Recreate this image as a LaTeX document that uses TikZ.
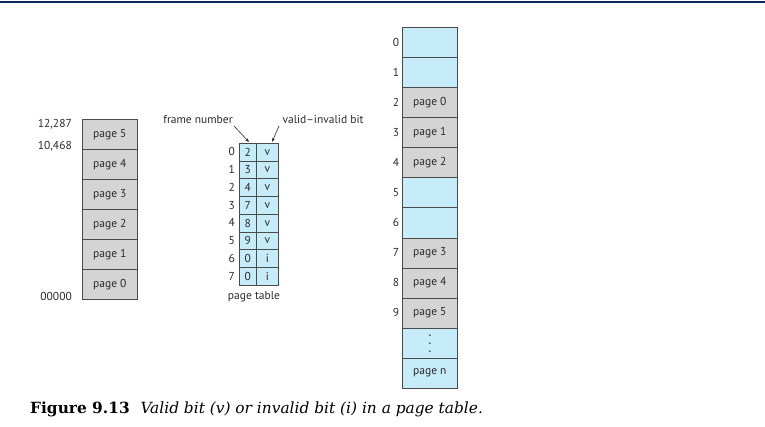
\documentclass[tikz,border=0pt]{standalone}
\usepackage{fontspec}
\setmainfont{DejaVu Serif}
\newfontfamily\lab{PT Sans}
\usetikzlibrary{arrows.meta}
\definecolor{memblue}{HTML}{C6ECFA}
\definecolor{memgray}{HTML}{D4D4D4}
\definecolor{edge}{HTML}{4A4A4A}
\definecolor{navy}{HTML}{0A2A5A}
\definecolor{txt}{HTML}{2A2A2A}
\begin{document}
\begin{tikzpicture}[x=1pt,y=-1pt,
  font=\lab\fontsize{11.5}{13}\selectfont,
  cellbox/.style={draw=edge, line width=0.7pt, inner sep=0pt, anchor=north west, text=txt},
  leftcell/.style={cellbox, fill=memgray, minimum width=55pt, minimum height=30pt},
  fcell/.style={cellbox, fill=memblue, minimum width=17pt, minimum height=17.75pt},
  vcell/.style={cellbox, fill=memblue, minimum width=22pt, minimum height=17.75pt},
  memcell/.style={cellbox, minimum width=55pt, minimum height=30.08pt},
  lbl/.style={inner sep=0pt, text=txt},
  ptr/.style={-{Stealth[length=4pt,width=3pt]}, draw=txt, line width=0.6pt}]
\useasboundingbox (0,0) rectangle (765,427);
% top rule
\coordinate (ruleL) at (0,2);
\coordinate (ruleR) at (765,2);
\draw[navy, line width=1.4pt] (ruleL) -- (ruleR);

% logical memory
\foreach \i/\p in {0/5,1/4,2/3,3/2,4/1,5/0}{
  \node[leftcell] (l\p) at (82,119+30*\i) {page \p};
}
\node[lbl, anchor=east] (a1) at (72,124) {12,287};
\node[lbl, anchor=east] (a2) at (72,146) {10,468};
\node[lbl, anchor=east] (a3) at (72,296) {00000};

% page table
\foreach \i/\f/\v in {0/2/v,1/3/v,2/4/v,3/7/v,4/8/v,5/9/v,6/0/i,7/0/i}{
  \node[fcell] (f\i) at (239,143+17.75*\i) {\f};
  \node[vcell] (v\i) at (256,143+17.75*\i) {\v};
  \node[lbl, anchor=east] (r\i) at (235,143+17.75*\i+8.9) {\i};
}
\node[lbl] (fn) at (198,120) {frame number};
\node[lbl] (vib) at (323,120) {valid–invalid bit};
\node[lbl] (pt) at (254,297) {page table};
\coordinate (fnA) at (234,126);
\coordinate (fnB) at (249,142);
\coordinate (vA) at (279,126);
\coordinate (vB) at (272,142);
\draw[ptr] (fnA) -- (fnB);
\draw[ptr] (vA) -- (vB);

% physical memory
\foreach \i/\c/\t in {0/memblue/{},1/memblue/{},2/memgray/{page 0},3/memgray/{page 1},4/memgray/{page 2},5/memblue/{},6/memblue/{},7/memgray/{page 3},8/memgray/{page 4},9/memgray/{page 5},10/memblue/{},11/memblue/{page n}}{
  \node[memcell, fill=\c] (m\i) at (402,27+30.08*\i) {\t};
}
\foreach \i in {0,...,9}{
  \node[lbl] (n\i) at (396,27+30.08*\i+15) {\i};
}
\foreach \d in {-8,0,8}{
  \fill[txt] ([yshift=\d pt]m10.center) circle (0.9pt);
}

% caption
\node[inner sep=0pt, anchor=base west, font=\fontsize{15.4}{17}\selectfont] (cap) at (30,413)
  {\textbf{Figure 9.13}\hspace{0.7em}\textit{Valid bit (v) or invalid bit (i) in a page table.}};
\end{tikzpicture}
\end{document}
